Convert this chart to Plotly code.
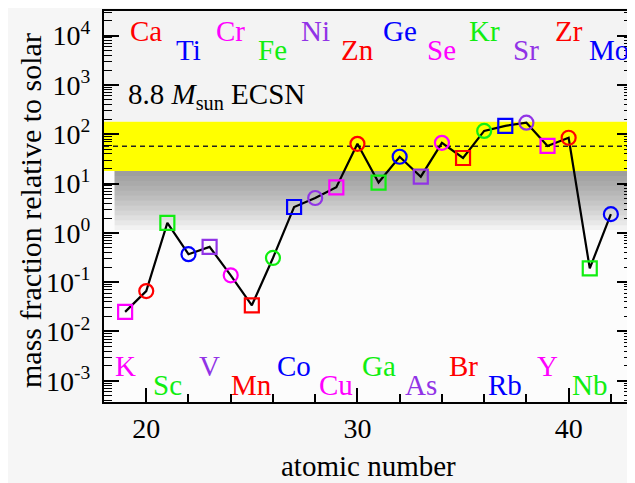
import plotly.graph_objects as go

# ---------------- data ----------------
atomic_number = list(range(19, 43))
elements = ["K", "Ca", "Sc", "Ti", "V", "Cr", "Mn", "Fe", "Co", "Ni", "Cu", "Zn",
            "Ga", "Ge", "As", "Se", "Br", "Kr", "Rb", "Sr", "Y", "Zr", "Nb", "Mo"]
mass_fraction = [0.025, 0.066, 1.6, 0.37, 0.52, 0.138, 0.034, 0.31, 3.35, 5.1, 8.4, 64,
                 10.5, 35, 13.8, 67, 33, 117, 148, 172, 58, 85, 0.19, 2.4]
band_center = 57.0          # dashed line value
band_halfwidth_dex = 0.5    # yellow band half width (dex)
x_tick_vals = [20, 30, 40]
y_tick_vals = [1e-3, 1e-2, 1e-1, 1e0, 1e1, 1e2, 1e3, 1e4]
y_tick_text = ["10<sup>-3</sup>", "10<sup>-2</sup>", "10<sup>-1</sup>", "10<sup>0</sup>",
               "10<sup>1</sup>", "10<sup>2</sup>", "10<sup>3</sup>", "10<sup>4</sup>"]
label_text = "8.8 <i>M</i><sub>sun</sub> ECSN"

# ---------------- styling ----------------
palette = ["#ff00ff", "#ff0000", "#11ee11", "#0000ff", "#9133e6"]  # K, Ca, Sc, Ti, V ...
FONT = "'Liberation Serif', 'Times New Roman', 'DejaVu Serif', serif"
X_RANGE = [18, 43]
Y_RANGE = [-3.43, 4.5]

colors = [palette[i % 5] for i in range(len(atomic_number))]
symbols = ["square-open" if z % 2 else "circle-open" for z in atomic_number]

band_lo = band_center / 10 ** band_halfwidth_dex
band_hi = band_center * 10 ** band_halfwidth_dex

fig = go.Figure()

# faint haze in the upper part of the panel
fig.add_trace(go.Scatter(
    x=[X_RANGE[0], X_RANGE[1], X_RANGE[1], X_RANGE[0], X_RANGE[0]],
    y=[band_hi, band_hi, 10 ** Y_RANGE[1], 10 ** Y_RANGE[1], band_hi],
    mode="lines", fill="toself", fillcolor="rgba(0,0,0,0.035)",
    line=dict(width=0), hoverinfo="skip", showlegend=False))

# shadow below yellow band (stacked translucent layers)
n_layers = 12
for k in range(1, n_layers + 1):
    lo = band_lo / 10 ** (0.1 * k)
    fig.add_trace(go.Scatter(
        x=[18.5, 43, 43, 18.5, 18.5], y=[band_lo, band_lo, lo, lo, band_lo],
        mode="lines", fill="toself", fillcolor="rgba(50,50,50,0.052)",
        line=dict(width=0), hoverinfo="skip", showlegend=False))

# yellow band
fig.add_trace(go.Scatter(
    x=[X_RANGE[0], X_RANGE[1], X_RANGE[1], X_RANGE[0], X_RANGE[0]],
    y=[band_lo, band_lo, band_hi, band_hi, band_lo],
    mode="lines", fill="toself", fillcolor="#ffff00",
    line=dict(width=0), hoverinfo="skip", showlegend=False))

# dashed centre line
fig.add_trace(go.Scatter(
    x=X_RANGE, y=[band_center, band_center], mode="lines",
    line=dict(color="#222222", width=1.5, dash="5px,4px"),
    hoverinfo="skip", showlegend=False))

# connecting line
fig.add_trace(go.Scatter(
    x=atomic_number, y=mass_fraction, mode="lines",
    line=dict(color="black", width=2.2), showlegend=False))

# markers
fig.add_trace(go.Scatter(
    x=atomic_number, y=mass_fraction, mode="markers",
    marker=dict(symbol=symbols, size=14, color=colors,
                line=dict(color=colors, width=2.2)),
    text=elements, showlegend=False))

# ---------------- layout ----------------
# page body has an 8px margin, so the figure is drawn 8px right/down
OFF = 8
W, H = 635 - OFF, 483 - OFF
L, R, T, B = 104 - OFF, 3, 9 - OFF, 483 - 402
plot_h = H - T - B
plot_w = W - L - R


def py(pix):  # page pixel row -> paper fraction
    return (H - B - (pix - OFF)) / plot_h


def px(pix):  # page pixel column -> paper fraction
    return ((pix - OFF) - L) / plot_w


annotations = []
for i, (z, el) in enumerate(zip(atomic_number, elements)):
    if z % 2 == 0:
        ypix = 29 if z % 4 == 0 else 48
    else:
        ypix = 366 if z % 4 == 3 else 385
    xa = "center"
    xv = z
    if el == "Mo":
        xa = "right"
        xv = X_RANGE[1] - 0.05
    annotations.append(dict(
        x=xv, xref="x", y=py(ypix), yref="paper", text=el, showarrow=False,
        xanchor=xa, yanchor="middle",
        font=dict(family=FONT, size=29, color=colors[i])))

annotations.append(dict(
    x=px(126), xref="paper", y=py(94), yref="paper", text=label_text,
    showarrow=False, xanchor="left", yanchor="middle",
    font=dict(family=FONT, size=29, color="black")))

annotations.append(dict(
    x=px(31), xref="paper", y=py(210), yref="paper",
    text="mass fraction relative to solar", textangle=-90, showarrow=False,
    xanchor="center", yanchor="middle",
    font=dict(family=FONT, size=30, color="black")))

annotations.append(dict(
    x=0.5, xref="paper", y=py(466), yref="paper",
    text="atomic number", showarrow=False,
    xanchor="center", yanchor="middle",
    font=dict(family=FONT, size=29, color="black")))

minor_y = [m * 10 ** e for e in range(-4, 5) for m in range(2, 10)]

fig.update_layout(
    width=W, height=H,
    margin=dict(l=L, r=R, t=T, b=B, pad=0),
    font=dict(family=FONT, size=28, color="black"),
    paper_bgcolor="#f6f6f6",
    plot_bgcolor="#fcfcfc",
    showlegend=False,
    annotations=annotations,
    xaxis=dict(
        range=X_RANGE, showgrid=False, zeroline=False,
        showline=True, linecolor="black", linewidth=2, mirror=True,
        tickmode="array", tickvals=x_tick_vals,
        ticks="inside", ticklen=14, tickwidth=1.5, tickcolor="black",
        ticklabelstandoff=0,
        tickfont=dict(family=FONT, size=28, color="black"),
        minor=dict(dtick=2, tick0=18, ticks="inside", ticklen=8,
                   tickwidth=1.5, tickcolor="black", showgrid=False),
    ),
    xaxis2=dict(
        overlaying="x", side="top", range=X_RANGE, showgrid=False,
        zeroline=False, showline=False, tickmode="linear", tick0=18, dtick=4,
        ticks="inside", ticklen=8, tickwidth=1.5, tickcolor="black",
        showticklabels=False,
    ),
    yaxis=dict(
        type="log", range=Y_RANGE, showgrid=False, zeroline=False,
        showline=True, linecolor="black", linewidth=2, mirror="allticks",
        tickmode="array", tickvals=y_tick_vals, ticktext=y_tick_text,
        ticks="inside", ticklen=15, tickwidth=1.5, tickcolor="black",
        ticklabelstandoff=6,
        tickfont=dict(family=FONT, size=28, color="black"),
        minor=dict(tickmode="array", tickvals=minor_y, ticks="inside",
                   ticklen=8, tickwidth=1.2, tickcolor="black", showgrid=False),
    ),
)

fig.write_html("out.html")
